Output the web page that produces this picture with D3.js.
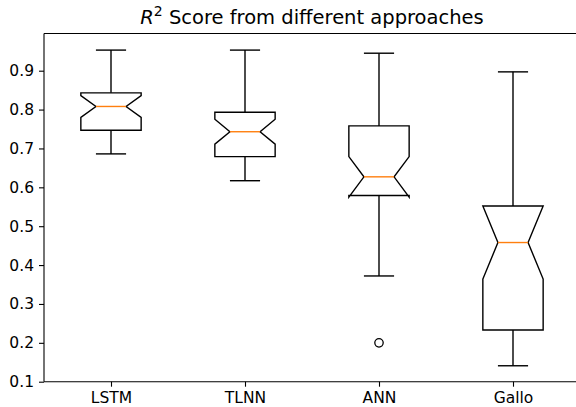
<!DOCTYPE html>
<html lang="en">
<head>
    <meta charset="UTF-8">
    <title>R2 Score boxplot</title>
    <style>
        html, body {
            margin: 0;
            padding: 0;
            background: #fff;
        }
        svg {
            display: block;
            font-family: "DejaVu Sans", sans-serif;
        }
        .box, .whisker, .cap {
            fill: none;
            stroke: #000;
            stroke-width: 1.4px;
        }
        .median {
            stroke: #ff7f0e;
            stroke-width: 1.4px;
        }
        .flier {
            fill: none;
            stroke: #000;
            stroke-width: 1.3px;
        }
        .axis path, .axis line {
            stroke: #000;
            stroke-width: 1.1px;
        }
        .axis text {
            font-family: "DejaVu Sans", sans-serif;
            font-size: 15.5px;
            fill: #000;
        }
    </style>
</head>
<body>
<svg width="576" height="407"></svg>

<script src="https://d3js.org/d3.v7.min.js"></script>
<script>
    // box stats
    const categories = ["LSTM", "TLNN", "ANN", "Gallo"];
    const whiskerLow  = [0.686, 0.617, 0.372, 0.141];
    const q1          = [0.747, 0.679, 0.579, 0.233];
    const notchLow    = [0.780, 0.711, 0.575, 0.364];
    const median      = [0.808, 0.743, 0.627, 0.458];
    const notchHigh   = [0.836, 0.775, 0.679, 0.552];
    const q3          = [0.843, 0.793, 0.758, 0.552];
    const whiskerHigh = [0.953, 0.953, 0.945, 0.897];
    const outliers    = [[], [], [0.200], []];
    const yTicks = [0.1, 0.2, 0.3, 0.4, 0.5, 0.6, 0.7, 0.8, 0.9];

    const plotLeft = 44, plotRight = 580, plotTop = 33.5, plotBottom = 381.7;
    const boxW = 0.45;

    const svg = d3.select("svg");

    const x = d3.scaleLinear().domain([0.5, 4.5]).range([plotLeft, plotRight]);
    const y = d3.scaleLinear().domain([0.1, 0.9]).range([plotBottom, 70.7]);

    const boxes = categories.map((c, i) => ({
        name: c, pos: i + 1,
        wl: whiskerLow[i], q1: q1[i], nl: notchLow[i], med: median[i],
        nh: notchHigh[i], q3: q3[i], wh: whiskerHigh[i], fl: outliers[i]
    }));

    const g = svg.append("g");

    // notched box path, same order as matplotlib
    function boxPath(d) {
        const l = x(d.pos - boxW / 2), r = x(d.pos + boxW / 2);
        const cl = x(d.pos - boxW / 4), cr = x(d.pos + boxW / 4);
        const pts = [
            [l, y(d.q1)], [r, y(d.q1)], [r, y(d.nl)], [cr, y(d.med)],
            [r, y(d.nh)], [r, y(d.q3)], [l, y(d.q3)], [l, y(d.nh)],
            [cl, y(d.med)], [l, y(d.nl)], [l, y(d.q1)]
        ];
        return d3.line()(pts) + "Z";
    }

    const bx = g.selectAll(".bp").data(boxes).enter().append("g").attr("class", "bp");

    // whiskers
    bx.append("line").attr("class", "whisker")
        .attr("x1", d => x(d.pos)).attr("x2", d => x(d.pos))
        .attr("y1", d => y(d.q1)).attr("y2", d => y(d.wl));
    bx.append("line").attr("class", "whisker")
        .attr("x1", d => x(d.pos)).attr("x2", d => x(d.pos))
        .attr("y1", d => y(d.q3)).attr("y2", d => y(d.wh));

    // caps
    bx.append("line").attr("class", "cap")
        .attr("x1", d => x(d.pos - boxW / 4)).attr("x2", d => x(d.pos + boxW / 4))
        .attr("y1", d => y(d.wl)).attr("y2", d => y(d.wl));
    bx.append("line").attr("class", "cap")
        .attr("x1", d => x(d.pos - boxW / 4)).attr("x2", d => x(d.pos + boxW / 4))
        .attr("y1", d => y(d.wh)).attr("y2", d => y(d.wh));

    bx.append("path").attr("class", "box").attr("d", boxPath);

    bx.append("line").attr("class", "median")
        .attr("x1", d => x(d.pos - boxW / 4)).attr("x2", d => x(d.pos + boxW / 4))
        .attr("y1", d => y(d.med)).attr("y2", d => y(d.med));

    bx.selectAll(".flier").data(d => d.fl.map(v => ({pos: d.pos, v: v})))
        .enter().append("circle").attr("class", "flier")
        .attr("cx", d => x(d.pos)).attr("cy", d => y(d.v)).attr("r", 4.2);

    // frame (right spine falls outside the picture)
    svg.append("line").attr("x1", plotLeft).attr("x2", plotRight)
        .attr("y1", plotTop).attr("y2", plotTop)
        .attr("stroke", "#000").attr("stroke-width", 1.1);

    const yAxis = svg.append("g").attr("class", "axis")
        .attr("transform", `translate(${plotLeft},0)`)
        .call(d3.axisLeft(y).tickValues(yTicks).tickFormat(d3.format(".1f"))
            .tickSize(5).tickPadding(5).tickSizeOuter(0));
    yAxis.select(".domain").attr("d", `M0,${plotTop}V${plotBottom}`);

    const xAxis = svg.append("g").attr("class", "axis")
        .attr("transform", `translate(0,${plotBottom})`)
        .call(d3.axisBottom(x).tickValues(boxes.map(d => d.pos))
            .tickFormat((d, i) => categories[i]).tickSize(5).tickPadding(5).tickSizeOuter(0));
    xAxis.select(".domain").attr("d", `M${plotLeft},0H${plotRight}`);

    // title with R squared
    const title = svg.append("text")
        .attr("x", (plotLeft + plotRight) / 2).attr("y", 24)
        .attr("text-anchor", "middle")
        .style("font-size", "19.5px");
    title.append("tspan").style("font-style", "italic").text("R");
    title.append("tspan").attr("dy", -8).style("font-size", "14px").text("2");
    title.append("tspan").attr("dy", 8).text(" Score from different approaches");
</script>
</body>
</html>
